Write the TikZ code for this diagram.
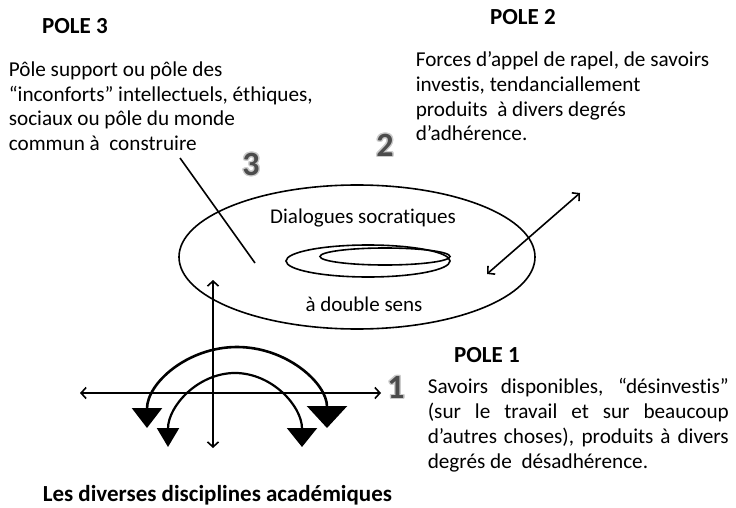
\documentclass[tikz,border=0pt]{standalone}
\usepackage{fontspec}
\setmainfont[Ligatures=NoCommon]{Carlito}
\usepackage{tikz}
\usepackage[copies]{contour}
\usetikzlibrary{positioning,arrows.meta,calc}
\contourlength{1.3pt}
\newcommand{\polenum}[1]{\contour{gray!40}{#1}}

\begin{document}
\begin{tikzpicture}[x=1pt, y=-1pt, line width=1.6pt,
  >={Straight Barb[length=5pt,width=11pt]},
  poletext/.style={font=\fontsize{21.2}{24.7}\selectfont, anchor=north west, inner sep=0pt, align=left},
  poletitle/.style={font=\fontsize{23}{26}\selectfont\bfseries, inner sep=0pt},
  polenumber/.style={font=\fontsize{34}{34}\selectfont\bfseries, text=gray!60!black, inner sep=0pt},
  ringtext/.style={font=\fontsize{21}{24}\selectfont, inner sep=0pt},
  bighead/.style={{Triangle[width=30pt,length=20pt]}-{Triangle[width=40pt,length=22pt]}},
  smallhead/.style={{Triangle[width=22pt,length=19pt]}-{Triangle[width=30pt,length=19pt]}}]
\useasboundingbox (0,0) rectangle (736,508);

% titles and texts of the three poles
\node[poletitle] (t3) at (75,26) {POLE 3};
\node[poletitle] (t2) at (523,17) {POLE 2};
\node[poletitle] (t1) at (487,355) {POLE 1};
\node[poletext] (p3) at (8,61) {P\^ole support ou p\^ole des\\
  ``inconforts'' intellectuels, \'ethiques,\\
  sociaux ou p\^ole du monde\\
  commun \`a~ construire};
\node[poletext] (p2) at (415,51) {Forces d'appel de rapel, de savoirs\\
  investis, tendanciallement\\
  produits~ \`a divers degr\'es\\
  d'adh\'erence.};
\node[poletext, font=\fontsize{21.2}{25.3}\selectfont, text width=301pt, align=justify] (p1) at (427,377)
  {Savoirs disponibles, ``d\'esinvestis''\linebreak
  (sur le travail et sur beaucoup\linebreak
  d'autres choses), produits \`a divers\linebreak
  degr\'es de~ d\'esadh\'erence.};
\node[poletitle, anchor=base west] (disc) at (42,501) {Les diverses disciplines acad\'emiques};

% numbers
\node[polenumber] (n3) at (251,165) {\polenum{3}};
\node[polenumber] (n2) at (385,146) {\polenum{2}};
\node[polenumber] (n1) at (396,388) {\polenum{1}};

% the rings
\draw (357,257) ellipse [x radius=178, y radius=72];
\draw (368,261) ellipse [x radius=82, y radius=16];
\draw (385,256.5) ellipse [x radius=65, y radius=8.5];
\node[ringtext] (dial) at (363,218) {Dialogues socratiques};
\node[ringtext] (sens) at (364,304) {\`a double sens};

% connectors
\coordinate (l3a) at (180,158);
\coordinate (l3b) at (255,263);
\coordinate (l2a) at (487,274);
\coordinate (l2b) at (580,193);
\coordinate (vtop) at (213,280);
\coordinate (vbot) at (213,448);
\coordinate (hleft) at (80,393);
\coordinate (hright) at (381,393);
\draw (l3a) -- (l3b);
\draw[<->] (l2a) -- (l2b);
\draw[<->] (vbot) -- (vtop);
\draw[<->] (hleft) -- (hright);

% the arcs over the disciplines
\draw[bighead, line width=2.6pt] (147,428) arc[start angle=180, end angle=0, x radius=90pt, y radius=81pt];
\draw[smallhead, line width=2.2pt] (168,447) arc[start angle=180, end angle=0, x radius=67pt, y radius=74pt];
\end{tikzpicture}
\end{document}
